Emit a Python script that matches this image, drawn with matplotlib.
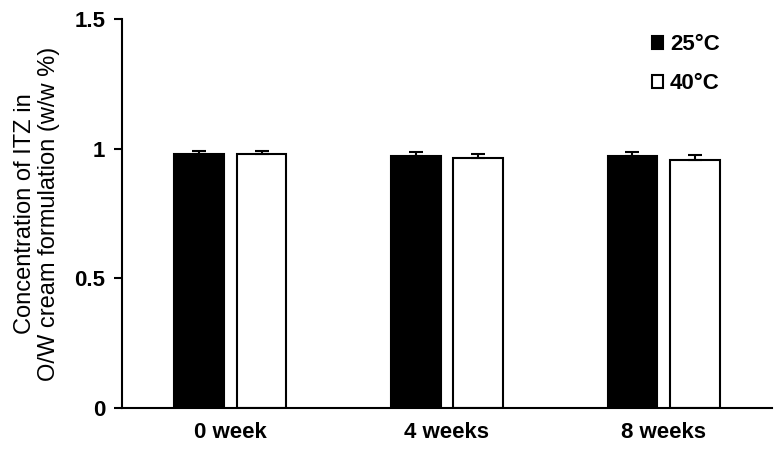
import matplotlib.pyplot as plt
import numpy as np

plt.rcParams['font.family'] = ['Liberation Sans', 'DejaVu Sans']
plt.rcParams['font.weight'] = 'bold'

groups = ['0 week', '4 weeks', '8 weeks']
conc_25 = [0.980, 0.972, 0.972]
err_25 = [0.010, 0.015, 0.015]
conc_40 = [0.980, 0.964, 0.957]
err_40 = [0.010, 0.017, 0.018]

x = np.arange(len(groups))
w = 0.23
off = 0.144

fig = plt.figure(figsize=(7.83, 4.57), dpi=100)
ax = fig.add_axes([122/783, 1 - 408/457, 650/783, 389/457])

ekw = dict(ecolor='black', elinewidth=1.5, capsize=5, capthick=1.5)
ax.bar(x - off, conc_25, w, color='black', edgecolor='black', linewidth=1.5,
       yerr=[np.zeros(len(err_25)), err_25], error_kw=ekw, label='25°C')
ax.bar(x + off, conc_40, w, color='white', edgecolor='black', linewidth=1.5,
       yerr=[np.zeros(len(err_40)), err_40], error_kw=ekw, label='40°C')

ax.set_xlim(-0.5, 2.5)
ax.set_ylim(0, 1.5)
ax.set_yticks([0, 0.5, 1, 1.5])
ax.set_yticklabels(['0', '0.5', '1', '1.5'])
ax.set_xticks(x)
ax.set_xticklabels(groups)
ax.tick_params(axis='x', length=0, pad=10, labelsize=16)
ax.tick_params(axis='y', direction='out', length=6, width=1.5, pad=6, labelsize=16)
for s in ['top', 'right']:
    ax.spines[s].set_visible(False)
for s in ['left', 'bottom']:
    ax.spines[s].set_linewidth(1.5)

ax.set_ylabel('Concentration of ITZ in\nO/W cream formulation (w/w %)',
              fontsize=17, fontweight='normal', labelpad=10, linespacing=1.15)

leg = ax.legend(loc='upper right', bbox_to_anchor=(0.95, 1.012), frameon=False,
                fontsize=16, handlelength=0.5, handleheight=0.5, handletextpad=0.3,
                labelspacing=0.8)

fig.savefig('out.png', dpi=100)
